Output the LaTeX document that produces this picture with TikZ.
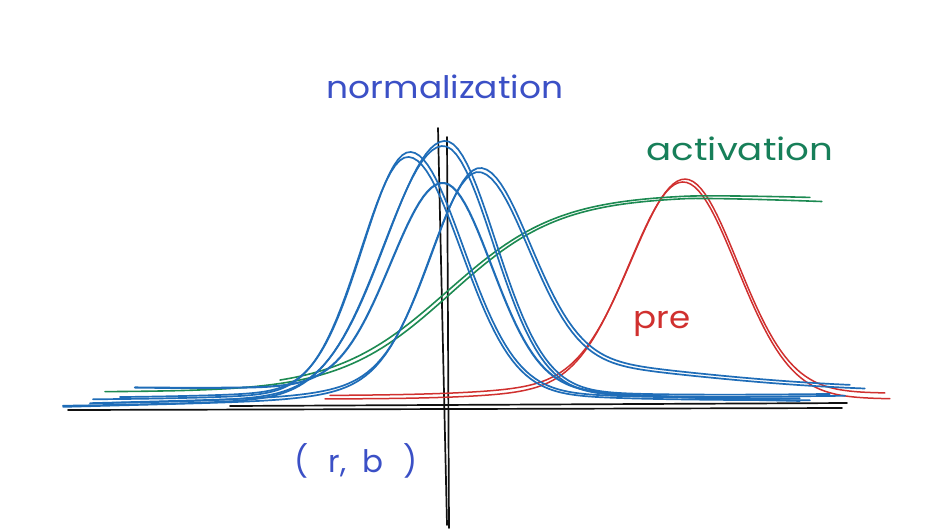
\documentclass[tikz,border=0pt]{standalone}
\usepackage{fontspec}
\setmainfont{Poppins}
\definecolor{cblue}{HTML}{1F6DB8}
\definecolor{tblue}{HTML}{3B50C6}
\definecolor{cgreen}{HTML}{1D8A52}
\definecolor{tgreen}{HTML}{177F59}
\definecolor{cred}{HTML}{D0302F}
\definecolor{ink}{HTML}{111111}
\tikzset{
  bl/.style={draw=cblue, line width=1.7pt, line cap=round, line join=round},
  blt/.style={draw=cblue, line width=2.1pt, line cap=round, line join=round},
  gr/.style={draw=cgreen, line width=1.6pt, line cap=round, line join=round},
  rd/.style={draw=cred, line width=1.5pt, line cap=round, line join=round},
  ax/.style={draw=ink, line width=1.7pt, line cap=round},
  lbl/.style={font=\fontsize{31}{33}\selectfont, anchor=base, inner sep=0pt},
}
\begin{document}
\begin{tikzpicture}[x=1pt, y=-1pt,
  declare function={ag(\qx,\qm,\qa,\qb)=exp(max(-((\qx-\qm)^2)/(2*(ifthenelse(\qx<\qm,\qa,\qb))^2),-30));}]
\useasboundingbox (0,0) rectangle (925,528);
\fill[white] (0,0) rectangle (925,528);

% axes
\draw[ax] (68,410) -- (842,408);
\draw[ax] (230,406) -- (847,403);
\draw[ax] (438,128) -- (447,525);
\draw[ax] (447,137) -- (449,528);

% red pre-activation
\draw[rd] plot[domain=3.25:8.9, samples=140] ({100*\x},{399 - 199*ag(\x,6.83,0.53,0.53) - 18*ag(\x,6.83,1.1,0.7)});
\draw[rd] plot[domain=3.30:8.85, samples=140] ({100*\x},{395.5 - 0.4*(\x-3.3) - 197*ag(\x,6.85,0.53,0.52) - 18*ag(\x,6.83,1.1,0.7)});

% green activation
\draw[gr] plot[domain=1.05:8.22, samples=120] ({100*\x},{392 - 196/(1+exp(-(\x-4.5)/0.55)) + 4*max(\x-6.9,0)});
\draw[gr] plot[domain=2.8:8.1, samples=100] ({100*\x},{389.5 - 196/(1+exp(-(\x-4.47)/0.56)) + 3*max(\x-6.9,0)});

% blue curves
% A
\draw[bl] plot[domain=0.93:8.10, samples=160] ({100*\x},{400 + 0.1*(\x-4.08) - 235*ag(\x,4.08,0.47,0.53) - 8*ag(\x,4.08,1.3,1.3)});
\draw[bl] plot[domain=1.2:8.0, samples=160] ({100*\x},{398 + 0.1*(\x-4.08) - 238*ag(\x,4.10,0.47,0.53) - 8*ag(\x,4.08,1.3,1.3)});
% B
\draw[bl] plot[domain=0.63:8.45, samples=160] ({100*\x},{401 - 1.28*(\x-4.43) - 247*ag(\x,4.43,0.59,0.50) - 8*ag(\x,4.43,1.3,1.3)});
\draw[bl] plot[domain=1.0:8.3, samples=160] ({100*\x},{399 - 1.28*(\x-4.43) - 250*ag(\x,4.45,0.59,0.50) - 8*ag(\x,4.43,1.3,1.3)});
% C
\draw[blt] plot[domain=1.35:8.0, samples=160] ({100*\x},{394 + 1.95*(\x-4.43) - 203*ag(\x,4.43,0.52,0.48) - 8*ag(\x,4.43,1.3,1.3)});
% D
\draw[bl] plot[domain=0.63:8.65, samples=160] ({100*\x},{396 - 2.62*min(\x-4.78,0) - 0.8*max(\x-4.78,0) - 189*ag(\x,4.78,0.465,0.5) - 35*ag(\x,4.78,0.8,1.9)});
\draw[bl] plot[domain=0.9:8.5, samples=160] ({100*\x},{393 - 2.62*min(\x-4.78,0) - 0.8*max(\x-4.78,0) - 190*ag(\x,4.80,0.465,0.5) - 35*ag(\x,4.78,0.8,1.9)});

% labels
\node[lbl, text=tblue] (norm) at (445,98) {\scalebox{1.11}[1]{normalization}};
\node[lbl, text=tgreen] (act) at (740,160) {\scalebox{1.2}[1]{activation}};
\node[lbl, text=cred] (pre) at (662,328) {\scalebox{1.1}[1]{pre}};
\node[lbl, text=tblue] (rb) at (356,472) {(\hspace{20pt}r,\hspace{16pt}b\hspace{20pt})};
\end{tikzpicture}
\end{document}
